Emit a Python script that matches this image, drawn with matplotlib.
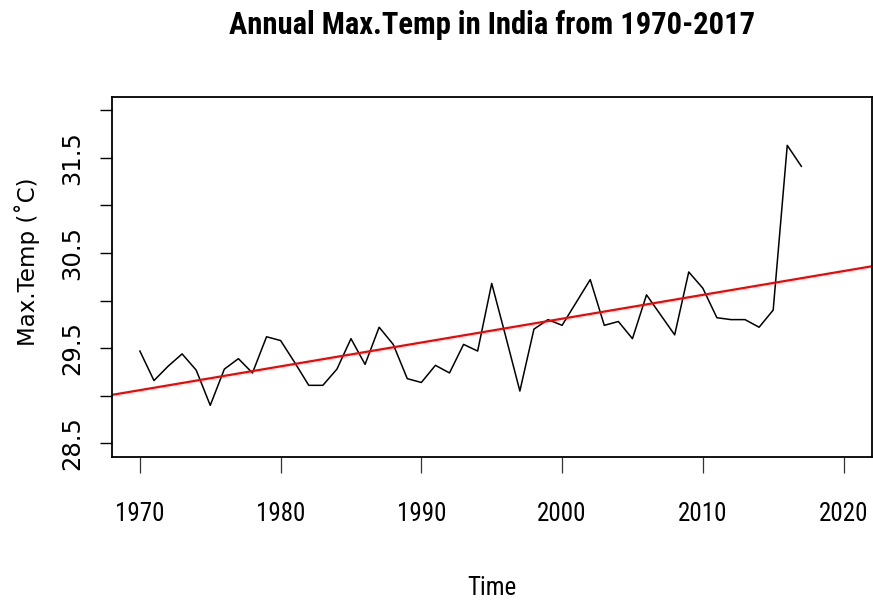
import numpy as np
import matplotlib
matplotlib.use("Agg")
import matplotlib.pyplot as plt

# annual mean of max temperature
years = list(range(1970, 2018))
max_temp = [
    29.47, 29.16, 29.31, 29.44, 29.27, 28.90, 29.28, 29.39, 29.24, 29.62,
    29.58, 29.35, 29.11, 29.11, 29.28, 29.60, 29.33, 29.72, 29.54, 29.18,
    29.14, 29.32, 29.24, 29.54, 29.47, 30.18, 29.62, 29.05, 29.70, 29.80,
    29.74, 29.98, 30.22, 29.74, 29.78, 29.60, 30.06, 29.85, 29.64, 30.30,
    30.13, 29.82, 29.80, 29.80, 29.72, 29.90, 31.63, 31.41,
]
x_ticks = [1970, 1980, 1990, 2000, 2010, 2020]
y_ticks = [28.5, 29.0, 29.5, 30.0, 30.5, 31.0, 31.5, 32.0]
y_labels = ["28.5", "", "29.5", "", "30.5", "", "31.5", ""]

# the original png is stretched vertically: narrow font across, wide font up the side
narrow = ["Roboto Condensed", "Liberation Sans", "DejaVu Sans"]
wide = ["DejaVu Sans"]

fig = plt.figure(figsize=(8.73, 6.01), dpi=100)
ax = fig.add_axes([0.128, 0.240, 0.8705, 0.599])

ax.plot(years, max_temp, color="black", lw=1.1)

# linear trend, drawn across the whole plot region like abline(lm(...))
slope, intercept = np.polyfit(years, max_temp, 1)
xl = np.array([1968.0, 2022.0])
ax.plot(xl, intercept + slope * xl, color="red", lw=1.6)

ax.set_xlim(1968, 2022)
ax.set_ylim(28.36, 32.14)

ax.set_xticks(x_ticks)
ax.set_xticklabels([str(t) for t in x_ticks], family=narrow, fontsize=18)
ax.set_yticks(y_ticks)
ax.set_yticklabels(y_labels, family=wide, fontsize=17.5, rotation=90, va="center")
ax.tick_params(axis="x", length=11.5, width=0.9, pad=21, color="#333333")
ax.tick_params(axis="y", length=8.6, width=1.0, pad=11)

for s in ax.spines.values():
    s.set_linewidth(1.3)

ax.set_xlabel("Time", family=narrow, fontsize=18, labelpad=36)
ax.set_ylabel("Max.Temp (˚C)", family=wide, fontsize=16.5, va="center")
ax.yaxis.set_label_coords(-0.1114, 0.541)
fig.text(0.5635, 0.958, "Annual Max.Temp in India from 1970-2017",
         family=narrow, fontweight="bold", fontsize=22, ha="center", va="center")

fig.savefig("out.png", dpi=100)
